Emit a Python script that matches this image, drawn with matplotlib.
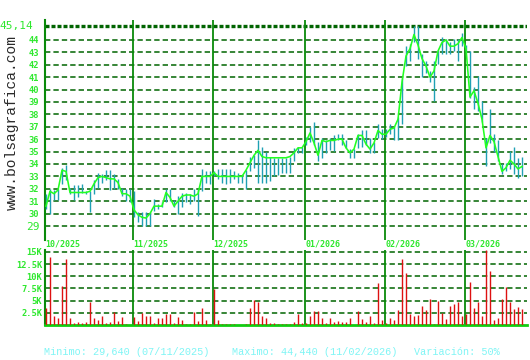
import numpy as np
import matplotlib.pyplot as plt

# daily closes, highs, lows (EUR) and volume (thousands), Oct 2025 - Mar 2026
closes = [30.6, 31.8, 31.6, 31.9, 33.5, 33.4, 31.7, 31.7, 31.7, 31.7,
          31.7, 31.8, 32.4, 32.9, 33.0, 32.9, 32.8, 32.8, 32.5, 31.6,
          31.6, 31.4, 30.3, 29.9, 29.7, 29.64, 30.0, 30.6, 30.6, 30.6,
          31.7, 31.3, 30.6, 31.0, 31.4, 31.5, 31.5, 31.4, 31.6, 33.0,
          33.0, 33.0, 33.3, 33.0, 33.0, 33.0, 33.0, 33.0, 33.0, 33.0,
          33.5, 34.1, 34.7, 35.1, 34.6, 34.5, 34.5, 34.5, 34.5, 34.5,
          34.5, 34.6, 34.9, 35.3, 35.3, 35.8, 36.5, 35.7, 34.7, 35.9,
          35.8, 35.9, 35.9, 36.0, 36.0, 35.3, 34.9, 35.2, 36.3, 36.3,
          35.6, 35.2, 35.7, 36.7, 36.4, 36.4, 36.8, 36.9, 37.6, 40.6,
          42.7, 43.3, 44.44, 43.6, 42.5, 41.9, 41.0, 41.5, 43.1, 43.8,
          44.0, 43.5, 43.5, 43.7, 44.2, 43.3, 39.4, 39.9, 38.9, 37.6,
          35.3, 36.3, 35.8, 34.6, 33.4, 33.7, 34.3, 34.0, 33.6, 33.8]
highs = [31.6, 32.0, 31.9, 32.0, 33.7, 33.9, 32.1, 32.3, 32.3, 32.4,
         31.8, 31.8, 32.7, 33.3, 33.2, 33.5, 33.5, 33.2, 32.8, 32.1,
         32.0, 32.0, 31.8, 30.1, 30.1, 30.1, 30.1, 31.2, 30.8, 30.9,
         32.0, 32.0, 31.1, 31.4, 31.7, 31.7, 31.6, 32.0, 32.0, 33.6,
         33.45, 33.45, 33.4, 33.6, 33.6, 33.6, 33.6, 33.4, 33.3, 33.1,
         33.5, 34.6, 34.7, 35.9, 35.4, 35.0, 34.6, 34.5, 34.5, 34.5,
         34.5, 34.6, 35.3, 35.4, 35.4, 36.2, 37.0, 37.4, 35.8, 36.1,
         35.9, 36.1, 36.3, 36.4, 36.4, 35.9, 35.2, 35.2, 36.4, 36.7,
         36.7, 36.1, 35.8, 37.2, 36.8, 36.8, 37.2, 37.1, 37.8, 40.9,
         43.5, 43.7, 45.14, 45.1, 42.9, 42.3, 41.5, 42.3, 43.2, 44.2,
         44.1, 43.8, 44.1, 44.1, 44.6, 43.6, 43.1, 40.2, 41.1, 39.1,
         36.1, 38.4, 36.4, 35.9, 34.0, 34.1, 35.05, 35.4, 34.5, 34.6]
lows = [30.4, 30.0, 31.1, 31.1, 32.4, 32.7, 31.6, 31.1, 31.3, 31.7,
        31.6, 30.1, 31.6, 32.1, 32.5, 32.7, 31.9, 32.0, 32.0, 31.4,
        31.0, 30.9, 29.7, 29.3, 29.0, 29.0, 29.0, 30.2, 30.4, 30.5,
        30.9, 31.0, 30.5, 29.95, 30.5, 30.9, 30.8, 31.0, 29.8, 31.8,
        32.5, 32.4, 33.0, 32.8, 32.5, 32.4, 32.5, 32.8, 32.5, 32.5,
        32.0, 33.4, 33.7, 32.5, 32.5, 32.5, 32.6, 33.0, 33.1, 33.3,
        33.3, 33.3, 34.2, 34.9, 34.9, 35.5, 35.8, 35.5, 34.2, 34.5,
        34.9, 35.1, 35.05, 35.9, 35.5, 35.3, 34.5, 34.5, 35.3, 35.4,
        35.5, 34.9, 34.9, 36.1, 36.0, 36.2, 36.4, 35.9, 35.9, 37.2,
        41.9, 42.3, 43.8, 42.5, 41.0, 41.3, 40.6, 39.1, 42.1, 42.9,
        42.9, 42.9, 43.1, 42.3, 43.5, 43.0, 39.3, 38.4, 38.3, 37.4,
        33.8, 35.7, 35.0, 34.2, 33.2, 33.4, 33.6, 33.2, 32.9, 33.0]
volumes = [3.5, 14.0, 1.9, 1.4, 8.1, 13.5, 1.4, 0.4, 0.6, 0.4,
           0.6, 4.7, 1.5, 1.0, 1.8, 0.4, 0.6, 2.6, 0.8, 1.6,
           0.2, 0.1, 1.6, 0.8, 2.5, 1.8, 1.8, 0.4, 1.4, 1.4,
           2.3, 2.3, 0.4, 1.6, 1.0, 0.15, 0.2, 2.6, 0.9, 3.5,
           1.0, 0.2, 7.4, 1.0, 0.2, 0.2, 0.2, 0.2, 0.1, 0.1,
           0.2, 3.5, 5.2, 4.7, 1.75, 1.5, 0.4, 0.4, 0.2, 0.2,
           0.2, 0.2, 0.6, 2.3, 0.4, 0.5, 1.8, 2.8, 2.8, 1.5,
           0.4, 1.5, 0.6, 0.8, 0.6, 0.6, 1.5, 0.1, 2.8, 1.25,
           0.7, 1.75, 0.5, 8.7, 1.05, 0.5, 1.5, 1.05, 3.0, 13.6,
           10.7, 2.3, 1.75, 2.1, 3.8, 3.0, 5.4, 0.2, 5.0, 2.5,
           1.25, 3.8, 4.35, 4.8, 1.75, 2.3, 8.9, 3.5, 4.7, 1.75,
           15.3, 11.1, 1.1, 1.4, 5.4, 7.9, 4.7, 3.2, 3.65, 3.2]

month_labels = ['10/2025', '11/2025', '12/2025', '01/2026', '02/2026', '03/2026']
month_starts = [0, 22, 42, 65, 85, 105]
price_ticks = list(range(29, 45))
vol_ticks = [2.5, 5, 7.5, 10, 12.5, 15]
vol_labels = ['2.5K', '5K', '7.5K', '10K', '12.5K', '15K']
top_price = 45.14

GREEN_TXT = '#2ee82e'
GRID = '#006400'
VLINE = '#0a8a0a'
MONO = 'DejaVu Sans Mono'
THIN = 'Liberation Mono'

W, H = 530, 360
def rect(x0, y0, x1, y1):
    return [x0 / W, 1 - y1 / H, (x1 - x0) / W, (y1 - y0) / H]

fig = plt.figure(figsize=(5.3, 3.6), dpi=100)
fig.patch.set_facecolor('white')

idx = np.arange(len(closes))

# price panel
ax = fig.add_axes(rect(45, 20, 527, 240))
ax.set_xlim(-0.25, 120.25)
ax.set_ylim(27.87, 45.61)
for y in price_ticks:
    ax.axhline(y, color=GRID, lw=1.1, dashes=(3.5, 2.0), zorder=1)
ax.axhline(top_price, color=GRID, lw=2.4, dashes=(1.2, 0.6), zorder=1)
for m in month_starts[1:]:
    ax.axvline(m - 0.25, color=VLINE, lw=1.3, zorder=2)
ax.vlines(idx, lows, highs, color='#1fa0b4', lw=1.0, zorder=3)
ax.plot(idx, closes, color='#22ff22', lw=1.15, zorder=4)

ax.set_yticks(price_ticks)
ax.set_yticklabels([str(t) for t in price_ticks], family=MONO, fontsize=6.3,
                   fontweight='bold', color=GREEN_TXT)
ax.get_yticklabels()[0].set_fontsize(8)
ax.get_yticklabels()[0].set_fontweight('normal')
ax.tick_params(axis='y', length=0, pad=4)
ax.set_xticks([])
for s in ['top', 'right', 'bottom']:
    ax.spines[s].set_visible(False)
ax.spines['left'].set_color(VLINE)
ax.spines['left'].set_linewidth(1.5)
ax.text(-0.025, top_price, '45,14', transform=ax.get_yaxis_transform(),
        ha='right', va='center', family=MONO, fontsize=8, color=GREEN_TXT)

for m, lab in zip(month_starts, month_labels):
    ax.text(m - 0.1, -0.016, lab, transform=ax.get_xaxis_transform(),
            ha='left', va='center', family=MONO, fontsize=6, fontweight='bold',
            color=GREEN_TXT, clip_on=False)

# volume panel
axv = fig.add_axes(rect(45, 250, 527, 325))
axv.set_xlim(-0.25, 120.25)
axv.set_ylim(0, 15.4)
for y in vol_ticks:
    axv.axhline(y, color=GRID, lw=1.1, dashes=(3.5, 2.0), zorder=1)
for m in month_starts[1:]:
    axv.axvline(m - 0.25, color=VLINE, lw=1.3, zorder=2)
axv.vlines(idx, 0, volumes, color='#dd1111', lw=1.0, zorder=3)
axv.set_yticks(vol_ticks)
axv.set_yticklabels(vol_labels, family=MONO, fontsize=6.3, fontweight='bold',
                    color=GREEN_TXT)
axv.tick_params(axis='y', length=0, pad=2)
axv.set_xticks([])
for s in ['top', 'right']:
    axv.spines[s].set_visible(False)
axv.spines['left'].set_color(VLINE)
axv.spines['left'].set_linewidth(1.5)
axv.spines['bottom'].set_color('#11cc11')
axv.spines['bottom'].set_linewidth(2)

# watermark and footer
fig.text(12 / W, 1 - 122 / H, 'www.bolsagrafica.com', rotation=90, ha='center',
         va='center', family=THIN, fontsize=10.5, color='#2a2a2a')
foot = '#7ff5f5'
fig.text(44 / W, 1 - 352 / H, 'Minimo: 29,640 (07/11/2025)', family=THIN,
         fontsize=7.3, color=foot, va='center')
fig.text(232 / W, 1 - 352 / H, 'Maximo: 44,440 (11/02/2026)', family=THIN,
         fontsize=7.3, color=foot, va='center')
fig.text(414 / W, 1 - 352 / H, 'Variación: 50%', family=THIN,
         fontsize=7.3, color=foot, va='center')

fig.savefig('out.png', dpi=100)
